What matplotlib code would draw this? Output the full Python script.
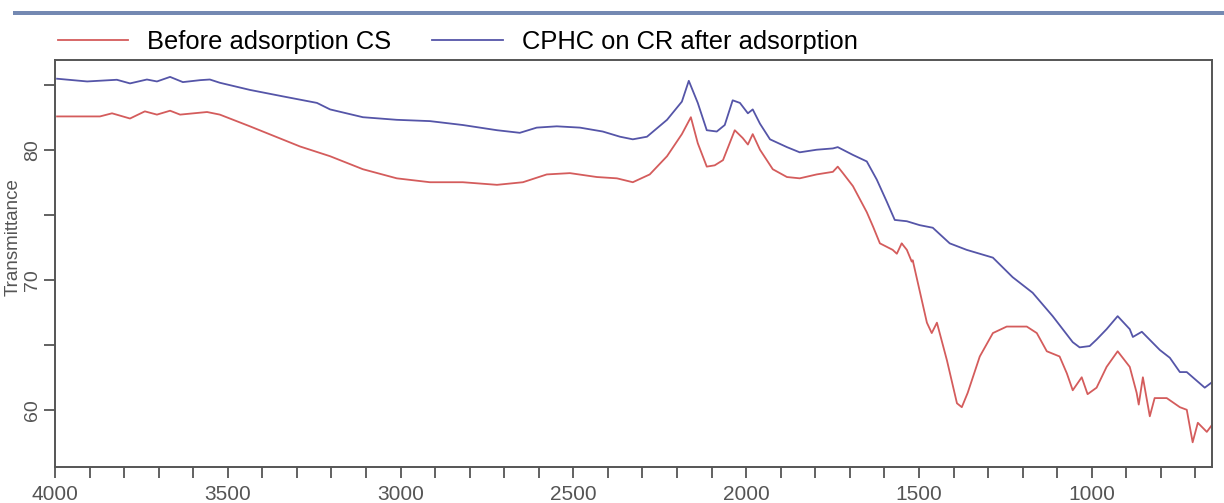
import matplotlib
matplotlib.use("Agg")
import matplotlib.pyplot as plt
from matplotlib.patches import Rectangle
from matplotlib.ticker import MultipleLocator

plt.rcParams['font.family'] = ['Liberation Sans', 'DejaVu Sans']

# ---- data ----
series_labels = ["Before adsorption CS", "CPHC on CR after adsorption"]

wn_before = [3994, 3870, 3835, 3783, 3740, 3705, 3667, 3638, 3560, 3523, 3436, 3291, 3204, 3147,
             3109, 3011, 2915, 2820, 2721, 2646, 2577, 2510, 2432, 2374, 2328, 2279, 2229, 2186,
             2160, 2140, 2114, 2091, 2067, 2033, 2010, 1995, 1981, 1960, 1923, 1882, 1845, 1796,
             1749, 1735, 1720, 1691, 1651, 1633, 1613, 1576, 1564, 1550, 1547, 1535, 1521, 1518,
             1477, 1463, 1448, 1419, 1390, 1376, 1359, 1324, 1286, 1246, 1188, 1159, 1130, 1093,
             1072, 1055, 1029, 1012, 986, 957, 925, 890, 870, 864, 852, 832, 818, 783, 745, 725,
             708, 693, 667, 653]
t_before = [82.56, 82.56, 82.8, 82.4, 82.95, 82.7, 83.0, 82.7, 82.9, 82.7, 81.8, 80.25, 79.5, 78.9,
            78.5, 77.8, 77.5, 77.5, 77.3, 77.5, 78.1, 78.2, 77.9, 77.8, 77.5, 78.1, 79.5, 81.2,
            82.5, 80.5, 78.7, 78.8, 79.2, 81.5, 80.9, 80.4, 81.2, 80.0, 78.5, 77.9, 77.8, 78.1,
            78.3, 78.7, 78.2, 77.2, 75.2, 74.1, 72.8, 72.3, 72.0, 72.8, 72.7, 72.3, 71.4, 71.5,
            66.7, 65.9, 66.7, 63.8, 60.5, 60.2, 61.3, 64.1, 65.9, 66.4, 66.4, 65.9, 64.5, 64.1,
            62.8, 61.5, 62.5, 61.2, 61.7, 63.3, 64.5, 63.3, 61.3, 60.4, 62.5, 59.5, 60.9, 60.9,
            60.2, 60.0, 57.5, 59.0, 58.3, 58.8]

wn_after = [3994, 3907, 3821, 3783, 3734, 3705, 3667, 3630, 3580, 3552, 3523, 3436, 3340, 3242,
            3204, 3109, 3011, 2915, 2820, 2721, 2655, 2606, 2548, 2481, 2415, 2365, 2328, 2287,
            2229, 2186, 2166, 2140, 2114, 2085, 2062, 2039, 2018, 1995, 1981, 1960, 1931, 1882,
            1845, 1796, 1749, 1735, 1691, 1651, 1622, 1593, 1570, 1535, 1498, 1460, 1411, 1362,
            1286, 1229, 1171, 1113, 1055, 1035, 1006, 986, 957, 925, 890, 881, 855, 803, 774,
            745, 725, 673, 653]
t_after = [85.46, 85.25, 85.38, 85.1, 85.4, 85.25, 85.6, 85.2, 85.35, 85.4, 85.15, 84.6, 84.1, 83.6,
           83.1, 82.5, 82.3, 82.2, 81.9, 81.5, 81.3, 81.7, 81.8, 81.7, 81.4, 81.0, 80.8, 81.0,
           82.3, 83.7, 85.3, 83.6, 81.5, 81.4, 81.9, 83.8, 83.6, 82.8, 83.1, 82.0, 80.8, 80.2,
           79.8, 80.0, 80.1, 80.2, 79.6, 79.1, 77.7, 76.0, 74.6, 74.5, 74.2, 74.0, 72.8, 72.3,
           71.7, 70.2, 69.0, 67.2, 65.2, 64.8, 64.9, 65.4, 66.2, 67.2, 66.2, 65.6, 66.0, 64.6,
           64.0, 62.9, 62.9, 61.7, 62.1]

x_major_ticks = [4000, 3500, 3000, 2500, 2000, 1500, 1000]
y_major_ticks = [60, 70, 80]

RED = "#d45c5c"
BLUE = "#5555a8"
GRAY = "#555555"

fig = plt.figure(figsize=(12.24, 5.03), dpi=100)
ax = fig.add_axes([55/1224, 36/503, (1212-55)/1224, (467-60)/503])

l1, = ax.plot(wn_before, t_before, color=RED, lw=1.3, label=series_labels[0])
l2, = ax.plot(wn_after, t_after, color=BLUE, lw=1.3, label=series_labels[1])

ax.set_xlim(4000, 652)
ax.set_ylim(55.6, 86.9)
ax.set_xticks(x_major_ticks)
ax.xaxis.set_minor_locator(MultipleLocator(100))
ax.set_yticks(y_major_ticks)
ax.yaxis.set_minor_locator(MultipleLocator(5))

for s in ax.spines.values():
    s.set_color(GRAY)
    s.set_linewidth(1.4)

ax.tick_params(axis='both', which='both', direction='out', color=GRAY, width=1.3,
               labelcolor=GRAY)
ax.tick_params(axis='x', which='both', length=8, pad=5, labelsize=15)
ax.tick_params(axis='y', which='both', length=8, pad=2, labelsize=14)
for lab in ax.get_yticklabels():
    lab.set_rotation(90)
    lab.set_va('center')

ax.set_ylabel("Transmittance", color=GRAY, fontsize=13.5)
ax.yaxis.set_label_coords(-0.029, 0.565)
ax.set_xlabel("Wavenumber cm-1", color=GRAY, fontsize=14)
ax.xaxis.set_label_coords(0.49, -0.145)

# top decorative bar
fig.add_artist(Rectangle((13/1224, (503-15)/503), 1 - 13/1224, 4/503,
                         transform=fig.transFigure, color="#7489b2", lw=0))

fig.legend(handles=[l1, l2], loc='center left', bbox_to_anchor=(58/1224, (503-42)/503),
           ncol=2, frameon=False, fontsize=18.4, handlelength=2.75, handletextpad=0.75,
           columnspacing=1.6, borderaxespad=0, borderpad=0)

fig.savefig("out.png", dpi=100)
